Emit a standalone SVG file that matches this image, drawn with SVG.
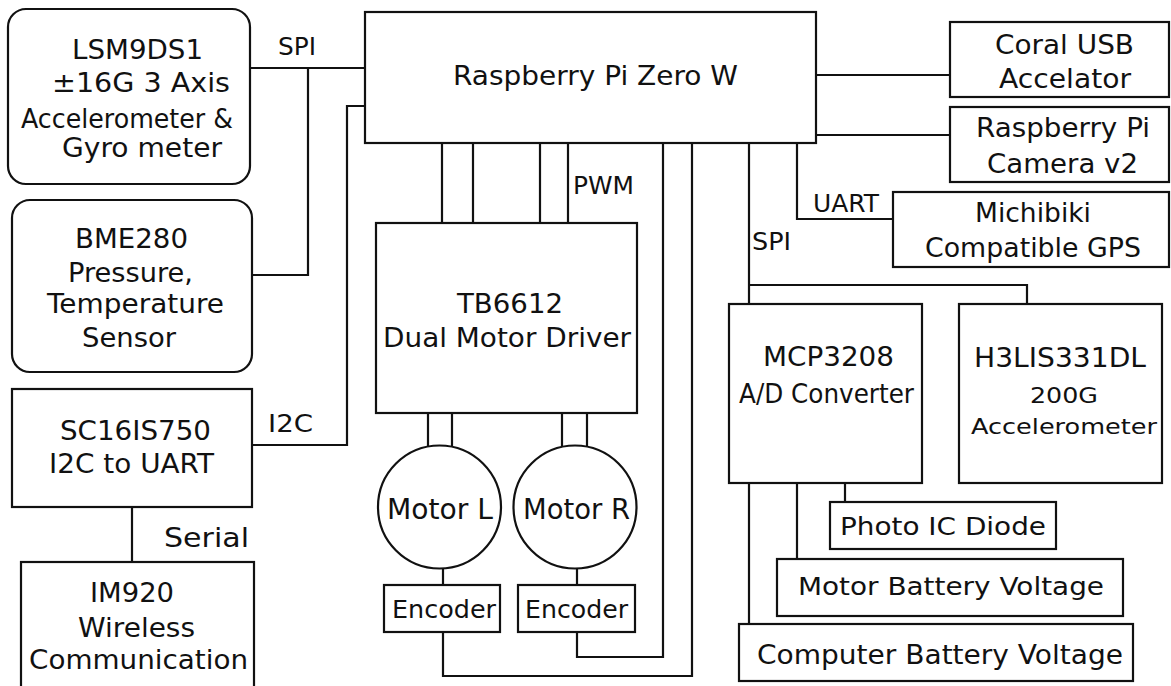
<svg xmlns="http://www.w3.org/2000/svg" width="1171" height="686" viewBox="0 0 1171 686">
<style>
.b{fill:#fff;stroke:#111;stroke-width:2.2}
.c{fill:none;stroke:#111;stroke-width:2.2}
text{font-family:"DejaVu Sans","Liberation Sans",sans-serif;fill:#111;font-size:26px}
.l{font-size:24px}
</style>
<rect width="1171" height="686" fill="#fff"/>
<g id="connectors">
<path class="c" d="M250 68H365M308 68V275H252"/>
<path class="c" d="M252 445H347V106H365"/>
<path class="c" d="M816 75H950M816 135H950"/>
<path class="c" d="M797 143V219H893"/>
<path class="c" d="M442 143V223M473 143V223M540 143V223M568 143V223"/>
<path class="c" d="M428 413V448M452 413V448M562 413V448M587 413V448"/>
<path class="c" d="M443 568V585M577 568V585"/>
<path class="c" d="M443 632V676H692V143M577 632V657H663V143"/>
<path class="c" d="M749 143V304M749 285H1027V304"/>
<path class="c" d="M845 483V502M797 483V559M749 483V624"/>
<path class="c" d="M132 507V562"/>
<text class="l" x="278" y="55" textLength="38" lengthAdjust="spacingAndGlyphs">SPI</text>
<text class="l" x="268" y="432" textLength="45" lengthAdjust="spacingAndGlyphs">I2C</text>
<text class="l" x="573" y="194" textLength="61" lengthAdjust="spacingAndGlyphs">PWM</text>
<text class="l" x="813" y="212" textLength="66" lengthAdjust="spacingAndGlyphs">UART</text>
<text class="l" x="752" y="250" textLength="39" lengthAdjust="spacingAndGlyphs">SPI</text>
<text x="164" y="547" style="font-size:27px" textLength="85" lengthAdjust="spacingAndGlyphs">Serial</text>
</g>
<g id="lsm9ds1">
<rect class="b" x="8" y="9" width="242" height="175" rx="18"/>
<text x="72" y="59" textLength="131" lengthAdjust="spacingAndGlyphs">LSM9DS1</text>
<text x="52" y="92" textLength="178" lengthAdjust="spacingAndGlyphs">±16G 3 Axis</text>
<text x="21" y="128" textLength="212" lengthAdjust="spacingAndGlyphs">Accelerometer &amp;</text>
<text x="62" y="157" textLength="160" lengthAdjust="spacingAndGlyphs">Gyro meter</text>
</g>
<g id="bme280">
<rect class="b" x="12" y="200" width="240" height="172" rx="18"/>
<text x="75" y="248" textLength="113" lengthAdjust="spacingAndGlyphs">BME280</text>
<text x="68" y="282" textLength="125" lengthAdjust="spacingAndGlyphs">Pressure,</text>
<text x="47" y="313" textLength="177" lengthAdjust="spacingAndGlyphs">Temperature</text>
<text x="82" y="347" textLength="94" lengthAdjust="spacingAndGlyphs">Sensor</text>
</g>
<g id="sc16is750">
<rect class="b" x="12" y="389" width="240" height="118"/>
<text x="60" y="440" textLength="151" lengthAdjust="spacingAndGlyphs">SC16IS750</text>
<text x="49" y="473" textLength="165" lengthAdjust="spacingAndGlyphs">I2C to UART</text>
</g>
<g id="im920">
<rect class="b" x="21" y="562" width="233" height="135"/>
<text x="90" y="602" textLength="84" lengthAdjust="spacingAndGlyphs">IM920</text>
<text x="78" y="637" textLength="117" lengthAdjust="spacingAndGlyphs">Wireless</text>
<text x="29" y="669" textLength="219" lengthAdjust="spacingAndGlyphs">Communication</text>
</g>
<g id="rpi">
<rect class="b" x="365" y="12" width="451" height="131"/>
<text x="453" y="85" style="font-size:27px" textLength="285" lengthAdjust="spacingAndGlyphs">Raspberry Pi Zero W</text>
</g>
<g id="coral">
<rect class="b" x="950" y="22" width="219" height="75"/>
<text x="995" y="54" textLength="139" lengthAdjust="spacingAndGlyphs">Coral USB</text>
<text x="999" y="88" textLength="132" lengthAdjust="spacingAndGlyphs">Accelator</text>
</g>
<g id="camera">
<rect class="b" x="950" y="107" width="219" height="75"/>
<text x="976" y="137" textLength="174" lengthAdjust="spacingAndGlyphs">Raspberry Pi</text>
<text x="987" y="173" textLength="151" lengthAdjust="spacingAndGlyphs">Camera v2</text>
</g>
<g id="gps">
<rect class="b" x="893" y="192" width="276" height="75"/>
<text x="975" y="222" textLength="116" lengthAdjust="spacingAndGlyphs">Michibiki</text>
<text x="925" y="257" textLength="216" lengthAdjust="spacingAndGlyphs">Compatible GPS</text>
</g>
<g id="tb6612">
<rect class="b" x="376" y="223" width="261" height="190"/>
<text x="457" y="313" textLength="106" lengthAdjust="spacingAndGlyphs">TB6612</text>
<text x="383" y="347" textLength="248" lengthAdjust="spacingAndGlyphs">Dual Motor Driver</text>
</g>
<g id="motor-l">
<circle class="b" cx="439.5" cy="507" r="61.5"/>
<text x="387" y="519" style="font-size:28px" textLength="106" lengthAdjust="spacingAndGlyphs">Motor L</text>
</g>
<g id="motor-r">
<circle class="b" cx="575" cy="507" r="61.5"/>
<text x="523" y="519" style="font-size:28px" textLength="107" lengthAdjust="spacingAndGlyphs">Motor R</text>
</g>
<g id="encoder-l">
<rect class="b" x="384" y="585" width="116" height="47"/>
<text x="392" y="618" style="font-size:25px" textLength="104" lengthAdjust="spacingAndGlyphs">Encoder</text>
</g>
<g id="encoder-r">
<rect class="b" x="518" y="585" width="117" height="47"/>
<text x="525" y="618" style="font-size:25px" textLength="103" lengthAdjust="spacingAndGlyphs">Encoder</text>
</g>
<g id="mcp3208">
<rect class="b" x="729" y="304" width="193" height="179"/>
<text x="763" y="366" textLength="131" lengthAdjust="spacingAndGlyphs">MCP3208</text>
<text x="739" y="403" style="font-size:27px" textLength="175" lengthAdjust="spacingAndGlyphs">A/D Converter</text>
</g>
<g id="h3lis331dl">
<rect class="b" x="959" y="304" width="203" height="179"/>
<text x="974" y="367" textLength="172" lengthAdjust="spacingAndGlyphs">H3LIS331DL</text>
<text x="1030" y="403" style="font-size:21px" textLength="68" lengthAdjust="spacingAndGlyphs">200G</text>
<text x="971" y="434" style="font-size:22px" textLength="186" lengthAdjust="spacingAndGlyphs">Accelerometer</text>
</g>
<g id="photo-ic">
<rect class="b" x="830" y="502" width="226" height="47"/>
<text x="840" y="535" style="font-size:25px" textLength="206" lengthAdjust="spacingAndGlyphs">Photo IC Diode</text>
</g>
<g id="motor-battery">
<rect class="b" x="777" y="559" width="346" height="57"/>
<text x="798" y="595" style="font-size:25px" textLength="306" lengthAdjust="spacingAndGlyphs">Motor Battery Voltage</text>
</g>
<g id="computer-battery">
<rect class="b" x="739" y="624" width="394" height="57"/>
<text x="757" y="664" textLength="366" lengthAdjust="spacingAndGlyphs">Computer Battery Voltage</text>
</g>
</svg>
